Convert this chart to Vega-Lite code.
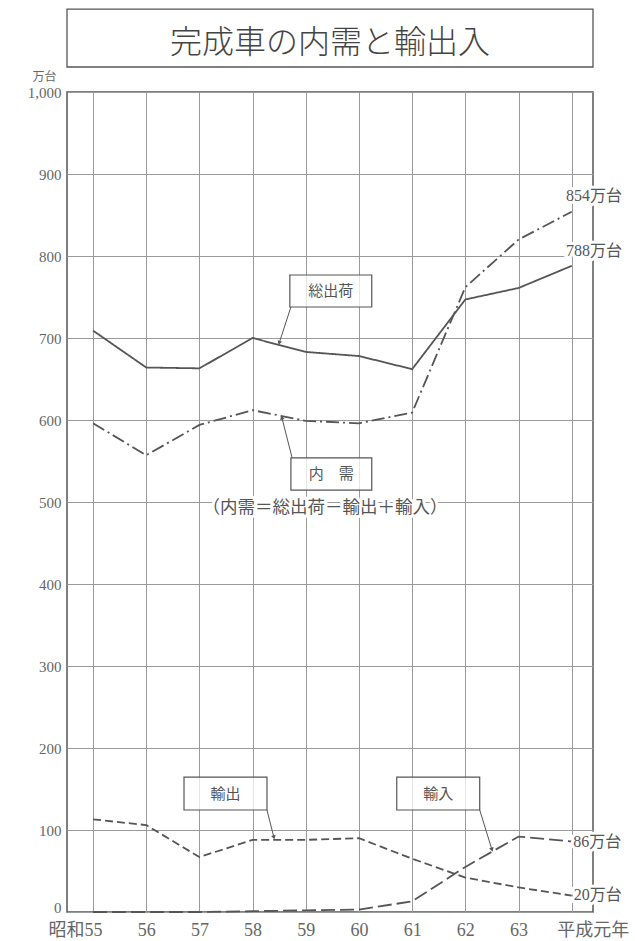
{
  "$schema": "https://vega.github.io/schema/vega-lite/v6.json",
  "width": 526,
  "height": 820,
  "autosize": {"type": "none"},
  "padding": {"left": 67, "top": 92, "right": 42, "bottom": 29},
  "background": "white",
  "config": {
    "view": {"stroke": "#555", "strokeWidth": 1.5},
    "font": "Noto Sans CJK JP"
  },
  "datasets": {
    "series": [
      {"i": 0, "year": "昭和55", "series": "総出荷", "value": 709},
      {"i": 1, "year": "56", "series": "総出荷", "value": 664},
      {"i": 2, "year": "57", "series": "総出荷", "value": 663},
      {"i": 3, "year": "58", "series": "総出荷", "value": 700},
      {"i": 4, "year": "59", "series": "総出荷", "value": 683},
      {"i": 5, "year": "60", "series": "総出荷", "value": 678},
      {"i": 6, "year": "61", "series": "総出荷", "value": 662},
      {"i": 7, "year": "62", "series": "総出荷", "value": 747},
      {"i": 8, "year": "63", "series": "総出荷", "value": 761},
      {"i": 9, "year": "平成元年", "series": "総出荷", "value": 788},
      {"i": 0, "year": "昭和55", "series": "内需", "value": 596},
      {"i": 1, "year": "56", "series": "内需", "value": 557},
      {"i": 2, "year": "57", "series": "内需", "value": 594},
      {"i": 3, "year": "58", "series": "内需", "value": 612},
      {"i": 4, "year": "59", "series": "内需", "value": 599},
      {"i": 5, "year": "60", "series": "内需", "value": 596},
      {"i": 6, "year": "61", "series": "内需", "value": 609},
      {"i": 7, "year": "62", "series": "内需", "value": 762},
      {"i": 8, "year": "63", "series": "内需", "value": 820},
      {"i": 9, "year": "平成元年", "series": "内需", "value": 854},
      {"i": 0, "year": "昭和55", "series": "輸出", "value": 113},
      {"i": 1, "year": "56", "series": "輸出", "value": 106},
      {"i": 2, "year": "57", "series": "輸出", "value": 67},
      {"i": 3, "year": "58", "series": "輸出", "value": 88},
      {"i": 4, "year": "59", "series": "輸出", "value": 88},
      {"i": 5, "year": "60", "series": "輸出", "value": 90},
      {"i": 6, "year": "61", "series": "輸出", "value": 65},
      {"i": 7, "year": "62", "series": "輸出", "value": 42},
      {"i": 8, "year": "63", "series": "輸出", "value": 30},
      {"i": 9, "year": "平成元年", "series": "輸出", "value": 20},
      {"i": 0, "year": "昭和55", "series": "輸入", "value": 0},
      {"i": 1, "year": "56", "series": "輸入", "value": 0},
      {"i": 2, "year": "57", "series": "輸入", "value": 0},
      {"i": 3, "year": "58", "series": "輸入", "value": 1},
      {"i": 4, "year": "59", "series": "輸入", "value": 2},
      {"i": 5, "year": "60", "series": "輸入", "value": 3},
      {"i": 6, "year": "61", "series": "輸入", "value": 13},
      {"i": 7, "year": "62", "series": "輸入", "value": 55},
      {"i": 8, "year": "63", "series": "輸入", "value": 92},
      {"i": 9, "year": "平成元年", "series": "輸入", "value": 86}
    ],
    "boxes": [
      {"label": "総出荷", "x": 3.70, "x2": 5.24, "y": 737.8, "y2": 776.8, "tx": 4.47, "ty": 757},
      {"label": "内　需", "x": 3.72, "x2": 5.24, "y": 514.6, "y2": 553.7, "tx": 4.48, "ty": 534},
      {"label": "輸出", "x": 1.71, "x2": 3.27, "y": 124.4, "y2": 164.6, "tx": 2.49, "ty": 144.5},
      {"label": "輸入", "x": 5.71, "x2": 7.27, "y": 124.4, "y2": 164.6, "tx": 6.49, "ty": 144.5}
    ],
    "leaders": [
      {"name": "総出荷", "x": 3.72, "y": 737.8, "x2": 3.50, "y2": 694},
      {"name": "内需", "x": 3.74, "y": 554.5, "x2": 3.55, "y2": 603},
      {"name": "輸出", "x": 3.27, "y": 124.4, "x2": 3.40, "y2": 91},
      {"name": "輸入", "x": 7.27, "y": 124.4, "x2": 7.50, "y2": 76}
    ],
    "labels": [
      {"text": "854万台", "x": 8.89, "y": 873},
      {"text": "788万台", "x": 8.89, "y": 806},
      {"text": "86万台", "x": 9.03, "y": 85.5},
      {"text": "20万台", "x": 9.04, "y": 20.5},
      {"text": "（内需＝総出荷－輸出＋輸入）", "x": 4.36, "y": 493, "center": true}
    ],
    "frame": [{"title": "完成車の内需と輸出入"}]
  },
  "layer": [
    {
      "data": {"name": "frame"},
      "mark": {"type": "rect", "fill": "white", "stroke": "#555", "strokeWidth": 1.3, "clip": false},
      "encoding": {
        "y": {"datum": 1030.5, "type": "quantitative", "scale": {"domain": [0, 1000], "nice": false}},
        "y2": {"datum": 1101}
      }
    },
    {
      "data": {"name": "frame"},
      "mark": {"type": "text", "font": "Noto Sans CJK JP", "fontSize": 32, "fontWeight": 300, "color": "#444", "align": "center", "baseline": "middle", "clip": false},
      "encoding": {
        "x": {"datum": 4.455, "type": "quantitative", "scale": {"domain": [-0.49, 9.4], "nice": false, "zero": false}},
        "y": {"datum": 1060, "type": "quantitative", "scale": {"domain": [0, 1000], "nice": false}},
        "text": {"field": "title"}
      }
    },
    {
      "data": {"name": "series"},
      "mark": {"type": "line", "color": "#555", "strokeWidth": 1.8},
      "encoding": {
        "x": {
          "field": "i",
          "type": "quantitative",
          "scale": {"domain": [-0.49, 9.4], "nice": false, "zero": false},
          "axis": {
            "title": null,
            "values": [0, 1, 2, 3, 4, 5, 6, 7, 8, 9],
            "labelExpr": "['昭和55','56','57','58','59','60','61','62','63','平成元年'][datum.value]",
            "labelFont": "Liberation Serif, Noto Sans CJK JP",
            "labelFontSize": 18,
            "labelColor": "#666",
            "labelPadding": 9,
            "labelFlush": false,
            "labelOffset": {"condition": [{"test": "datum.value == 0", "value": -18}, {"test": "datum.value == 9", "value": 21}], "value": 0},
            "ticks": false,
            "domain": false,
            "grid": true,
            "gridColor": "#9a9a9a",
            "gridWidth": 1
          }
        },
        "y": {
          "field": "value",
          "type": "quantitative",
          "scale": {"domain": [0, 1000], "nice": false},
          "axis": {
            "title": "万台",
            "titleAngle": 0,
            "titleX": -23,
            "titleY": -16,
            "titleAlign": "center",
            "titleBaseline": "middle",
            "titleFontSize": 12,
            "titleFontWeight": "normal",
            "titleColor": "#666",
            "titleFont": "Noto Sans CJK JP",
            "values": [0, 100, 200, 300, 400, 500, 600, 700, 800, 900, 1000],
            "format": ",.0f",
            "labelFont": "Liberation Serif",
            "labelFontSize": 15,
            "labelColor": "#666",
            "labelPadding": 6,
            "labelFlush": false,
            "labelBaseline": {"condition": {"test": "datum.value == 0", "value": "alphabetic"}, "value": "middle"},
            "ticks": false,
            "domain": false,
            "grid": true,
            "gridColor": "#9a9a9a",
            "gridWidth": 1
          }
        },
        "detail": {"field": "series"},
        "strokeDash": {
          "field": "series",
          "type": "nominal",
          "scale": {"domain": ["総出荷", "内需", "輸出", "輸入"], "range": [[1, 0], [13, 4, 2, 4], [8, 4], [14, 5]]},
          "legend": null
        }
      }
    },
    {
      "data": {"name": "leaders"},
      "mark": {"type": "rule", "color": "#555", "strokeWidth": 1},
      "encoding": {
        "x": {"field": "x", "type": "quantitative", "scale": {"domain": [-0.49, 9.4], "nice": false, "zero": false}},
        "y": {"field": "y", "type": "quantitative", "scale": {"domain": [0, 1000], "nice": false}},
        "x2": {"field": "x2"},
        "y2": {"field": "y2"}
      }
    },
    {
      "data": {"name": "leaders"},
      "transform": [{"filter": "datum.name == '総出荷'"}],
      "mark": {"type": "point", "shape": "triangle-up", "filled": true, "color": "#555", "size": 22, "angle": 200, "opacity": 1},
      "encoding": {
        "x": {"field": "x2", "type": "quantitative", "scale": {"domain": [-0.49, 9.4], "nice": false, "zero": false}},
        "y": {"field": "y2", "type": "quantitative", "scale": {"domain": [0, 1000], "nice": false}}
      }
    },
    {
      "data": {"name": "leaders"},
      "transform": [{"filter": "datum.name == '内需'"}],
      "mark": {"type": "point", "shape": "triangle-up", "filled": true, "color": "#555", "size": 22, "angle": 346, "opacity": 1},
      "encoding": {
        "x": {"field": "x2", "type": "quantitative", "scale": {"domain": [-0.49, 9.4], "nice": false, "zero": false}},
        "y": {"field": "y2", "type": "quantitative", "scale": {"domain": [0, 1000], "nice": false}}
      }
    },
    {
      "data": {"name": "leaders"},
      "transform": [{"filter": "datum.name == '輸出'"}],
      "mark": {"type": "point", "shape": "triangle-up", "filled": true, "color": "#555", "size": 22, "angle": 167, "opacity": 1},
      "encoding": {
        "x": {"field": "x2", "type": "quantitative", "scale": {"domain": [-0.49, 9.4], "nice": false, "zero": false}},
        "y": {"field": "y2", "type": "quantitative", "scale": {"domain": [0, 1000], "nice": false}}
      }
    },
    {
      "data": {"name": "leaders"},
      "transform": [{"filter": "datum.name == '輸入'"}],
      "mark": {"type": "point", "shape": "triangle-up", "filled": true, "color": "#555", "size": 22, "angle": 164, "opacity": 1},
      "encoding": {
        "x": {"field": "x2", "type": "quantitative", "scale": {"domain": [-0.49, 9.4], "nice": false, "zero": false}},
        "y": {"field": "y2", "type": "quantitative", "scale": {"domain": [0, 1000], "nice": false}}
      }
    },
    {
      "data": {"name": "boxes"},
      "mark": {"type": "rect", "fill": "white", "fillOpacity": 0.75, "stroke": "#555", "strokeWidth": 1.2},
      "encoding": {
        "x": {"field": "x", "type": "quantitative", "scale": {"domain": [-0.49, 9.4], "nice": false, "zero": false}},
        "x2": {"field": "x2"},
        "y": {"field": "y", "type": "quantitative", "scale": {"domain": [0, 1000], "nice": false}},
        "y2": {"field": "y2"}
      }
    },
    {
      "data": {"name": "boxes"},
      "mark": {"type": "text", "font": "Noto Sans CJK JP", "fontSize": 15, "color": "#555", "align": "center", "baseline": "middle"},
      "encoding": {
        "x": {"field": "tx", "type": "quantitative", "scale": {"domain": [-0.49, 9.4], "nice": false, "zero": false}},
        "y": {"field": "ty", "type": "quantitative", "scale": {"domain": [0, 1000], "nice": false}},
        "text": {"field": "label"}
      }
    },
    {
      "data": {"name": "labels"},
      "transform": [{"filter": "datum.center == true"}],
      "mark": {"type": "text", "font": "Noto Sans CJK JP", "fontSize": 17.5, "color": "white", "stroke": "white", "strokeWidth": 6, "align": "center", "baseline": "middle"},
      "encoding": {
        "x": {"field": "x", "type": "quantitative", "scale": {"domain": [-0.49, 9.4], "nice": false, "zero": false}},
        "y": {"field": "y", "type": "quantitative", "scale": {"domain": [0, 1000], "nice": false}},
        "text": {"field": "text"}
      }
    },
    {
      "data": {"name": "labels"},
      "transform": [{"filter": "datum.center == true"}],
      "mark": {"type": "text", "font": "Noto Sans CJK JP", "fontSize": 17.5, "color": "#555", "align": "center", "baseline": "middle"},
      "encoding": {
        "x": {"field": "x", "type": "quantitative", "scale": {"domain": [-0.49, 9.4], "nice": false, "zero": false}},
        "y": {"field": "y", "type": "quantitative", "scale": {"domain": [0, 1000], "nice": false}},
        "text": {"field": "text"}
      }
    },
    {
      "data": {"name": "labels"},
      "transform": [{"filter": "datum.center != true"}],
      "mark": {"type": "text", "font": "Liberation Serif, Noto Sans CJK JP", "fontSize": 16, "color": "white", "stroke": "white", "strokeWidth": 6, "align": "left", "baseline": "middle"},
      "encoding": {
        "x": {"field": "x", "type": "quantitative", "scale": {"domain": [-0.49, 9.4], "nice": false, "zero": false}},
        "y": {"field": "y", "type": "quantitative", "scale": {"domain": [0, 1000], "nice": false}},
        "text": {"field": "text"}
      }
    },
    {
      "data": {"name": "labels"},
      "transform": [{"filter": "datum.center != true"}],
      "mark": {"type": "text", "font": "Liberation Serif, Noto Sans CJK JP", "fontSize": 16, "color": "#555", "align": "left", "baseline": "middle"},
      "encoding": {
        "x": {"field": "x", "type": "quantitative", "scale": {"domain": [-0.49, 9.4], "nice": false, "zero": false}},
        "y": {"field": "y", "type": "quantitative", "scale": {"domain": [0, 1000], "nice": false}},
        "text": {"field": "text"}
      }
    }
  ]
}
